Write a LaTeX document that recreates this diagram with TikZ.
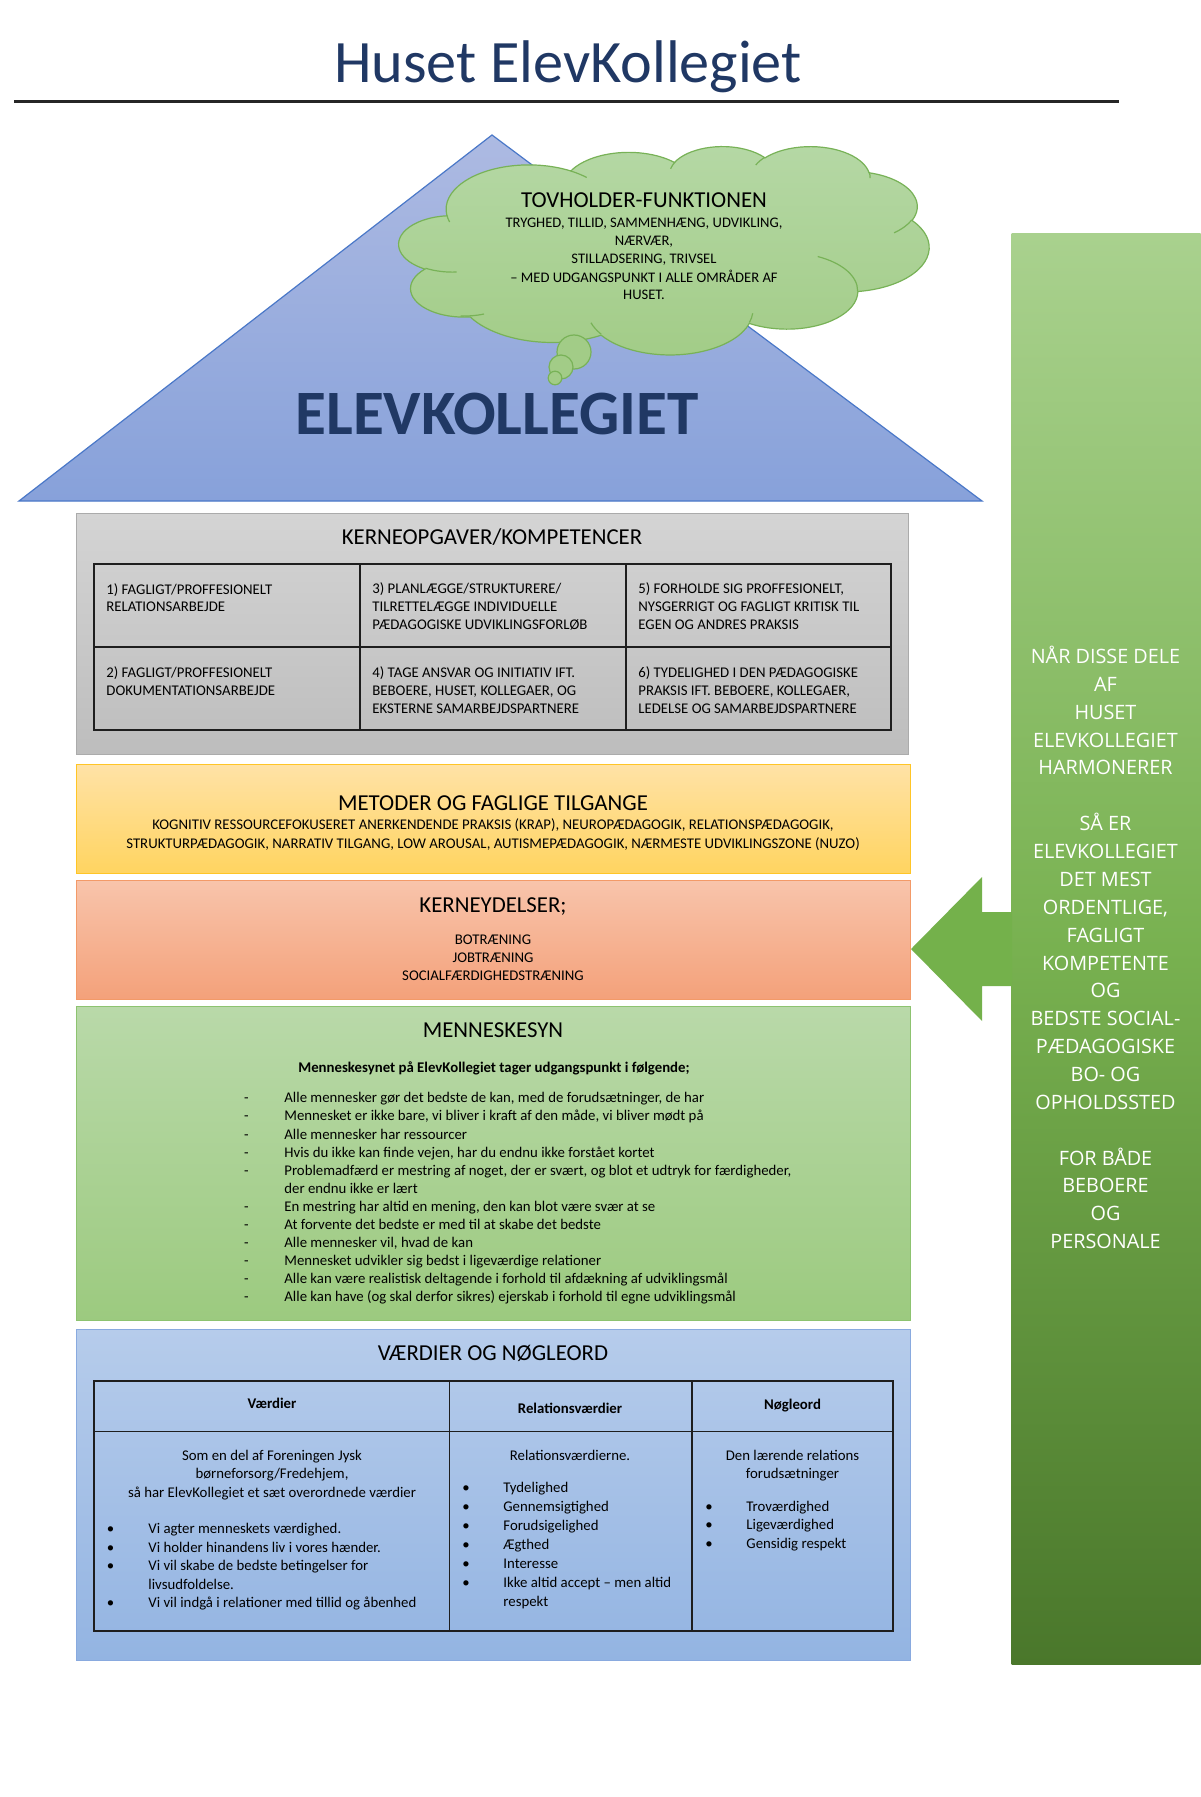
\documentclass[tikz,border=0pt]{standalone}
\usepackage{fontspec}
\setmainfont{Carlito}
\newfontfamily\colfont{Open Sans}
\newcommand\smfont[1]{\fontsize{7.4}{#1}\selectfont}
\definecolor{titleblue}{HTML}{203864}
\definecolor{roofTop}{HTML}{ADBAE2}
\definecolor{roofBot}{HTML}{87A1DA}
\definecolor{roofEdge}{HTML}{4A78C8}
\definecolor{cloudTop}{HTML}{B5D8A5}
\definecolor{cloudBot}{HTML}{A2CC87}
\definecolor{cloudEdge}{HTML}{78B257}
\definecolor{grayTop}{HTML}{D4D4D4}
\definecolor{grayBot}{HTML}{BDBDBD}
\definecolor{grayEdge}{HTML}{ABABAB}
\definecolor{yelTop}{HTML}{FFE2A6}
\definecolor{yelBot}{HTML}{FFD460}
\definecolor{yelEdge}{HTML}{FFC526}
\definecolor{orTop}{HTML}{F8C4AB}
\definecolor{orBot}{HTML}{F4A17A}
\definecolor{orEdge}{HTML}{F39A68}
\definecolor{grTop}{HTML}{B9D9A9}
\definecolor{grBot}{HTML}{9CCA7F}
\definecolor{grEdge}{HTML}{8DC370}
\definecolor{blTop}{HTML}{B6CCEB}
\definecolor{blBot}{HTML}{93B4E2}
\definecolor{blEdge}{HTML}{89AADF}
\definecolor{colTop}{HTML}{A9D18E}
\definecolor{colMid}{HTML}{78B150}
\definecolor{colBot}{HTML}{4A772B}
\definecolor{arrowGreen}{HTML}{74B14B}
\definecolor{tblLine}{HTML}{1E1E1E}
\tikzset{
  sect/.style={rectangle, anchor=north west, inner sep=0pt, line width=0.7pt},
  secttitle/.style={anchor=base, inner sep=0pt, font=\fontsize{11.4}{13.7}\selectfont},
  smallc/.style={anchor=base, align=center, inner sep=0pt},
  smalll/.style={anchor=base west, align=left, inner sep=0pt},
  tbl/.style={draw=tblLine, line width=0.65pt},
  cloudline/.style={draw=cloudEdge, line width=0.6pt},
  cldarc/.style n args={4}{insert path={arc[start angle={-atan2(#1*sin(#3),#2*cos(#3))}, delta angle={-Mod(atan2(#1*sin(#3+#4),#2*cos(#3+#4))-atan2(#1*sin(#3),#2*cos(#3)),360)}, x radius={#1*0.0061343*1pt}, y radius={#2*0.0024074*1pt}]}}
}
\begin{document}
\begin{tikzpicture}[x=0.5pt,y=-0.5pt]
\useasboundingbox (0,0) rectangle (1200,1797);
\fill[white] (0,0) rectangle (1200,1797);

% title
\node[anchor=base, inner sep=0pt, font=\fontsize{30.1}{36}\selectfont, text=titleblue] (title) at (568,83) {Huset ElevKollegiet};
\coordinate (ruleL) at (14,101.5);
\coordinate (ruleR) at (1119,101.5);
\draw[line width=1.2pt, black!85] (ruleL) -- (ruleR);

% roof
\coordinate (apex) at (492,135);
\coordinate (roofL) at (19,501);
\coordinate (roofR) at (982,501);
\path[draw=roofEdge, line width=0.6pt, top color=roofTop, bottom color=roofBot] (apex) -- (roofR) -- (roofL) -- cycle;
\node[anchor=base, inner sep=0pt, font=\bfseries\fontsize{31.6}{36}\selectfont, text=titleblue] (elev) at (497,434) {ELEVKOLLEGIET};

% cloud
\begin{scope}[shift={(399,146)}, x=0.61343pt, y=-0.24074pt]
\path[cloudline, top color=cloudTop, bottom color=cloudBot] (39.00,143.70)
  [cldarc={6753}{9190}{-190.4875}{123.7805}]
  [cldarc={5333}{7267}{-144.1024}{89.9452}]
  [cldarc={4365}{5945}{-145.8079}{99.7230}]
  [cldarc={4857}{6595}{-130.9861}{117.2417}]
  [cldarc={5333}{7273}{-78.7089}{109.0269}]
  [cldarc={6775}{9220}{-46.2673}{130.2690}]
  [cldarc={5785}{7867}{0.6250}{114.0333}]
  [cldarc={6752}{9215}{22.4516}{115.1726}]
  [cldarc={7720}{10543}{66.2426}{75.7110}]
  [cldarc={4360}{5918}{-274.9421}{146.7356}]
  [cldarc={4345}{5945}{-246.8285}{152.5189}] -- cycle;
\draw[cloudline] (46.93,261.77) [cldarc={4345}{5945}{86.7420}{26.4295}];
\draw[cloudline] (69.28,348.99) [cldarc={4360}{5918}{73.6105}{19.1367}];
\draw[cloudline] (164.78,390.90) [cldarc={6752}{9215}{137.6242}{19.2513}];
\draw[cloudline] (288.27,347.51) [cldarc={6752}{9215}{6.4533}{15.9984}];
\draw[cloudline] (341.29,229.54) [cldarc={5785}{7867}{-70.2924}{70.9174}];
\draw[cloudline] (417.98,153.54) [cldarc={5333}{7273}{30.3180}{27.7515}];
\draw[cloudline] (383.24,54.26) [cldarc={4857}{6595}{-13.7443}{14.8589}];
\draw[cloudline] (290.78,39.52) [cldarc={4857}{6595}{-149.1815}{18.1954}];
\draw[cloudline] (221.41,47.20) [cldarc={4365}{5945}{-163.4943}{17.6864}];
\draw[cloudline] (140.00,51.92) [cldarc={6753}{9190}{-66.7070}{12.3194}];
\draw[cloudline] (41.27,157.89) [cldarc={6753}{9190}{157.6544}{11.8582}];
\end{scope}
\path[cloudline, fill=cloudBot] (574,352) circle[radius=8.5pt];
\path[cloudline, fill=cloudBot] (561,367) circle[radius=6pt];
\path[cloudline, fill=cloudBot] (555,378) circle[radius=3.4pt];
\node[secttitle] (cloudT) at (644,207.5) {TOVHOLDER-FUNKTIONEN};
\node[smallc, font=\fontsize{7.3}{9}\selectfont] (cloudB) at (644,300) {TRYGHED, TILLID, SAMMENHÆNG, UDVIKLING,\\NÆRVÆR,\\STILLADSERING, TRIVSEL\\– MED UDGANGSPUNKT I ALLE OMRÅDER AF\\HUSET.};

% green column and arrow
\node[sect, draw=none, minimum width=94.5pt, minimum height=715.5pt, top color=colTop, bottom color=colBot, middle color=colMid] (col) at (1011,233) {};
\node[anchor=base, align=center, inner sep=0pt, text=white, font=\colfont\fontsize{9.9}{13.93}\selectfont] (coltext) at (1105.5,1248.6) {NÅR DISSE DELE\\AF\\HUSET\\ELEVKOLLEGIET\\HARMONERER\\[13.93pt]SÅ ER\\ELEVKOLLEGIET\\DET MEST\\ORDENTLIGE,\\FAGLIGT\\KOMPETENTE\\OG\\BEDSTE SOCIAL-\\PÆDAGOGISKE\\BO- OG\\OPHOLDSSTED\\[13.93pt]FOR BÅDE\\BEBOERE\\OG\\PERSONALE};
\coordinate (atip) at (911,949);
\coordinate (aht) at (982,877);
\coordinate (ast) at (982,912);
\coordinate (aet) at (1012,912);
\coordinate (aeb) at (1012,986);
\coordinate (asb) at (982,986);
\coordinate (ahb) at (982,1021);
\fill[arrowGreen] (atip) -- (aht) -- (ast) -- (aet) -- (aeb) -- (asb) -- (ahb) -- cycle;

% kerneopgaver
\node[sect, draw=grayEdge, top color=grayTop, bottom color=grayBot, minimum width=416pt, minimum height=120.5pt] (kerne) at (76,513) {};
\node[secttitle] (kerneT) at (492,544) {KERNEOPGAVER/KOMPETENCER};
\draw[tbl] (94,564) rectangle (891,730);
\draw[tbl] (94,647) -- (891,647);
\draw[tbl] (360,564) -- (360,730);
\draw[tbl] (626,564) -- (626,730);
\node[smalll, font=\smfont{8.93}] (c1) at (106,611.9) {1) FAGLIGT/PROFFESIONELT\\RELATIONSARBEJDE};
\node[smalll, font=\smfont{8.93}] (c3) at (372,629.7) {3) PLANLÆGGE/STRUKTURERE/\\TILRETTELÆGGE INDIVIDUELLE\\PÆDAGOGISKE UDVIKLINGSFORLØB};
\node[smalll, font=\smfont{8.93}] (c5) at (638,629.7) {5) FORHOLDE SIG PROFFESIONELT,\\NYSGERRIGT OG FAGLIGT KRITISK TIL\\EGEN OG ANDRES PRAKSIS};
\node[smalll, font=\smfont{8.93}] (c2) at (106,695.3) {2) FAGLIGT/PROFFESIONELT\\DOKUMENTATIONSARBEJDE};
\node[smalll, font=\smfont{8.93}] (c4) at (372,713.1) {4) TAGE ANSVAR OG INITIATIV IFT.\\BEBOERE, HUSET, KOLLEGAER, OG\\EKSTERNE SAMARBEJDSPARTNERE};
\node[smalll, font=\smfont{8.93}] (c6) at (638,713.1) {6) TYDELIGHED I DEN PÆDAGOGISKE\\PRAKSIS IFT. BEBOERE, KOLLEGAER,\\LEDELSE OG SAMARBEJDSPARTNERE};

% metoder
\node[sect, draw=yelEdge, top color=yelTop, bottom color=yelBot, minimum width=417pt, minimum height=54.5pt] (metoder) at (76,764) {};
\node[secttitle] (metoderT) at (493,810) {METODER OG FAGLIGE TILGANGE};
\node[smallc, font=\smfont{9.15}] (metoderB) at (493,848) {KOGNITIV RESSOURCEFOKUSERET ANERKENDENDE PRAKSIS (KRAP), NEUROPÆDAGOGIK, RELATIONSPÆDAGOGIK,\\STRUKTURPÆDAGOGIK, NARRATIV TILGANG, LOW AROUSAL, AUTISMEPÆDAGOGIK, NÆRMESTE UDVIKLINGSZONE (NUZO)};

% kerneydelser
\node[sect, draw=orEdge, top color=orTop, bottom color=orBot, minimum width=417pt, minimum height=59.5pt] (ydelser) at (76,880) {};
\node[secttitle] (ydelserT) at (493,912) {KERNEYDELSER;};
\node[smallc, font=\smfont{9}] (ydelserB) at (493,980.7) {BOTRÆNING\\JOBTRÆNING\\SOCIALFÆRDIGHEDSTRÆNING};

% menneskesyn
\node[sect, draw=grEdge, top color=grTop, bottom color=grBot, minimum width=417pt, minimum height=157pt] (syn) at (76,1006) {};
\node[secttitle] (synT) at (493,1037) {MENNESKESYN};
\node[anchor=base, inner sep=0pt, font=\bfseries\smfont{9}] (synS) at (494,1072) {Menneskesynet på ElevKollegiet tager udgangspunkt i følgende;};
\node[smallc, font=\smfont{9.045}] (synD) at (246.5,1301.8) {-\\-\\-\\-\\-\\\mbox{}\\-\\-\\-\\-\\-\\-};
\node[smalll, font=\smfont{9.045}] (synL) at (284,1301.8) {Alle mennesker gør det bedste de kan, med de forudsætninger, de har\\Mennesket er ikke bare, vi bliver i kraft af den måde, vi bliver mødt på\\Alle mennesker har ressourcer\\Hvis du ikke kan finde vejen, har du endnu ikke forstået kortet\\Problemadfærd er mestring af noget, der er svært, og blot et udtryk for færdigheder,\\der endnu ikke er lært\\En mestring har altid en mening, den kan blot være svær at se\\At forvente det bedste er med til at skabe det bedste\\Alle mennesker vil, hvad de kan\\Mennesket udvikler sig bedst i ligeværdige relationer\\Alle kan være realistisk deltagende i forhold til afdækning af udviklingsmål\\Alle kan have (og skal derfor sikres) ejerskab i forhold til egne udviklingsmål};

% værdier
\node[sect, draw=blEdge, top color=blTop, bottom color=blBot, minimum width=417pt, minimum height=165.5pt] (vaerdi) at (76,1329) {};
\node[secttitle] (vaerdiT) at (493,1360.5) {VÆRDIER OG NØGLEORD};
\draw[tbl] (94,1381) rectangle (893,1631);
\draw[tbl] (94,1431.5) -- (893,1431.5);
\draw[tbl] (449.5,1381) -- (449.5,1631);
\draw[tbl] (692,1381) -- (692,1631);
\node[anchor=base, inner sep=0pt, font=\bfseries\smfont{9}] (h1) at (272,1408.5) {Værdier};
\node[anchor=base, inner sep=0pt, font=\bfseries\smfont{9}] (h2) at (570,1413.5) {Relationsværdier};
\node[anchor=base, inner sep=0pt, font=\bfseries\smfont{9}] (h3) at (792.5,1409.5) {Nøgleord};
\node[smallc, font=\smfont{9.2}] (v1h) at (272,1497) {Som en del af Foreningen Jysk\\børneforsorg/Fredehjem,\\så har ElevKollegiet et sæt overordnede værdier};
\node[smallc, font=\smfont{9.3}] (v1b) at (110.5,1607.9) {•\\•\\•\\\mbox{}\\•};
\node[smalll, font=\smfont{9.3}] (v1l) at (148,1607.9) {Vi agter menneskets værdighed.\\Vi holder hinandens liv i vores hænder.\\Vi vil skabe de bedste betingelser for\\livsudfoldelse.\\Vi vil indgå i relationer med tillid og åbenhed};
\node[smallc, font=\smfont{9.2}] (v2h) at (570,1460.5) {Relationsværdierne.};
\node[smallc, font=\smfont{9.47}] (v2b) at (466,1587.2) {•\\•\\•\\•\\•\\•};
\node[smalll, font=\smfont{9.47}] (v2l) at (503,1606.1) {Tydelighed\\Gennemsigtighed\\Forudsigelighed\\Ægthed\\Interesse\\Ikke altid accept – men altid\\respekt};
\node[smallc, font=\smfont{9.15}] (v3h) at (792.5,1478.5) {Den lærende relations\\forudsætninger};
\node[smallc, font=\smfont{9.3}] (v3b) at (709,1548.4) {•\\•\\•};
\node[smalll, font=\smfont{9.3}] (v3l) at (746,1548.4) {Troværdighed\\Ligeværdighed\\Gensidig respekt};
\end{tikzpicture}
\end{document}
